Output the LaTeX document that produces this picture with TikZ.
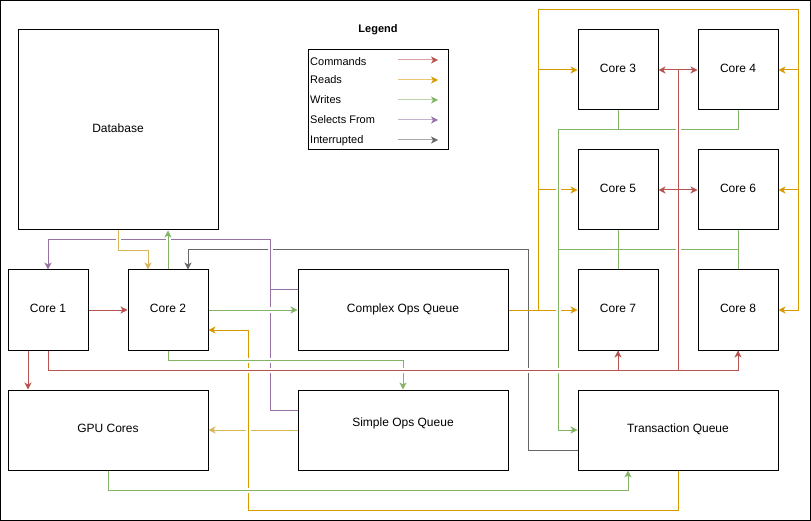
\documentclass[tikz,border=0pt]{standalone}
\usepackage{fontspec}
\setmainfont{Liberation Sans}
\usetikzlibrary{arrows.meta,calc}

\definecolor{cmdred}{HTML}{B85450}
\definecolor{readorange}{HTML}{D79B00}
\definecolor{readyellow}{HTML}{D6B656}
\definecolor{writegreen}{HTML}{82B366}
\definecolor{selpurple}{HTML}{9673A6}
\definecolor{intgray}{HTML}{666666}

\tikzset{
	corebox/.style={draw=black, line width=1pt, fill=white, inner sep=0pt, minimum width=80pt, minimum height=80pt, text height=8.5pt, text depth=3.5pt, font=\fontsize{12}{14}\selectfont},
	widebox/.style={corebox, minimum width=200pt},
	queuebox/.style={corebox, minimum width=210pt},
	keytext/.style={inner sep=0pt, anchor=base west, font=\fontsize{11}{13}\selectfont},
	link/.style={line width=1pt},
	linejump/.style={preaction={draw=white, line width=5pt, -}},
	cmd/.style={link, draw=cmdred, ->},
	cmdline/.style={link, draw=cmdred},
	reads/.style={link, draw=readorange, ->},
	readslight/.style={link, draw=readyellow, ->},
	writes/.style={link, draw=writegreen, ->},
	selects/.style={link, draw=selpurple, ->},
	intr/.style={link, draw=intgray, ->},
	keyline/.style={link, draw=#1!55!white, -{Stealth[length=7pt,width=7pt,inset=2pt,fill=#1,color=#1]}}
}

\begin{document}
\begin{tikzpicture}[x=1pt, y=-1pt, >={Stealth[length=7pt,width=7pt,inset=2pt]}]
			\useasboundingbox (0,0) rectangle (811,521);
			\draw[line width=1pt] (0.5,0.5) rectangle (810,520);
			
			\node[corebox, minimum width=200pt, minimum height=200pt] (db) at (118,130) {Database};
			\node[corebox] (c1) at (48,310) {Core 1};
			\node[corebox] (c2) at (168,310) {Core 2};
			\node[queuebox] (cq) at (403,310) {Complex Ops Queue};
			\node[widebox] (gpu) at (108,430) {GPU Cores};
			\node[queuebox] (sq) at (403,430) {};
			\node[font=\fontsize{12}{14}\selectfont, inner sep=0pt, text height=8.5pt, text depth=3.5pt] (sqtext) at ([yshift=6.5pt]sq.center) {Simple Ops Queue};
			\node[widebox] (tq) at (678,430) {Transaction Queue};
			
			\node[corebox] (c3) at (618,70) {Core 3};
			\node[corebox] (c4) at (738,70) {Core 4};
			\node[corebox] (c5) at (618,190) {Core 5};
			\node[corebox] (c6) at (738,190) {Core 6};
			\node[corebox] (c7) at (618,310) {Core 7};
			\node[corebox] (c8) at (738,310) {Core 8};
			
			\node[font=\bfseries\fontsize{11}{13}\selectfont] (lgtitle) at (378,30) {Legend};
			\node[draw=black, line width=1pt, minimum width=140pt, minimum height=100pt] (lgbox) at (378,100) {};
			\node[keytext] (kcmd) at (310,65.5) {Commands};
			\node[keytext] (kread) at (310,84) {Reads};
			\node[keytext] (kwrite) at (310,104) {Writes};
			\node[keytext] (ksel) at (310,124) {Selects From};
			\node[keytext] (kint) at (310,144) {Interrupted};
			
			\coordinate (kcmda) at (398,60);  \coordinate (kcmdb) at (438,60);
			\coordinate (kreada) at (398,80); \coordinate (kreadb) at (438,80);
			\coordinate (kwritea) at (398,100); \coordinate (kwriteb) at (438,100);
			\coordinate (ksela) at (398,120); \coordinate (kselb) at (438,120);
			\coordinate (kinta) at (398,140); \coordinate (kintb) at (438,140);
			\draw[keyline=cmdred] (kcmda) -- (kcmdb);
			\draw[keyline=readorange] (kreada) -- (kreadb);
			\draw[keyline=writegreen] (kwritea) -- (kwriteb);
			\draw[keyline=selpurple] (ksela) -- (kselb);
			\draw[keyline=intgray] (kinta) -- (kintb);
			
			\coordinate (pbend) at (270,240);
			\coordinate (gbend) at (528,250);
			\coordinate (ybend) at (248,510);
			\coordinate (rleft) at (538,10);
			\coordinate (rright) at (798,10);
			\coordinate (wtop) at (558,130);
			\coordinate (wmid) at (558,250);
			\coordinate (rbus) at ([yshift=-20pt]c1.south);
			\coordinate (rjoin) at ($(c3.east)!0.5!(c4.west)$);
			
			\draw[intr] ([yshift=-20pt]tq.west) -| (gbend) -| ([xshift=20pt]c2.north);
			\draw[selects, linejump] ([yshift=20pt]sq.west) -| (pbend) ([yshift=20pt]cq.west) -| (pbend) -| (c1.north);
			
			\draw[reads] (cq.east) -- (c7.west);
			\draw[reads] (cq.east) -- ++(30,0) |- (rright) |- (c8.east);
			\draw[reads] (rleft |- c3.west) -- (c3.west);
			\draw[reads] (rleft |- c5.west) -- (c5.west);
			\draw[reads] (rright |- c4.east) -- (c4.east);
			\draw[reads] (rright |- c6.east) -- (c6.east);
			
			\draw[readslight] (sq.west) -- (gpu.east);
			\draw[reads, linejump] (tq.south) |- (ybend) |- ([yshift=-20pt]c2.east);
			\draw[readslight, linejump] (db.south) -- ++(0,20) -| ([xshift=-20pt]c2.north);
			
			\draw[writes, linejump] (c2.north) -- ([xshift=50pt]db.south);
			\draw[writes, linejump] (c2.east) -- (cq.west);
			\draw[writes, linejump] (c2.south) -- ++(0,10) -| (sq.north);
			\draw[writes, linejump] (gpu.south) -- ++(0,20) -| ([xshift=-50pt]tq.south);
			\draw[writes, linejump] (c4.south) |- (wtop) (c5.south) |- (wmid) (c6.south) |- (wmid) (c7.north) |- (wmid) (c8.north) |- (wmid) (c3.south) |- (wtop) |- (tq.west);
			
			\draw[cmd] (c1.east) -- (c2.west);
			\draw[cmd] ([xshift=-20pt]c1.south) -- ([xshift=-80pt]gpu.north);
			\draw[cmdline, linejump] (c1.south) -- (rbus) -| (c8.south) (rbus -| rjoin) -- (rjoin) (rbus -| c7.south) -- (c7.south);
			\draw[cmd] (rbus -| c7.south) -- (c7.south);
			\draw[cmd] (rbus -| c8.south) -- (c8.south);
			\draw[cmdline, <->] (c3.east) -- (c4.west);
			\draw[cmdline, <->] (c5.east) -- (c6.west);
\end{tikzpicture}
\end{document}
